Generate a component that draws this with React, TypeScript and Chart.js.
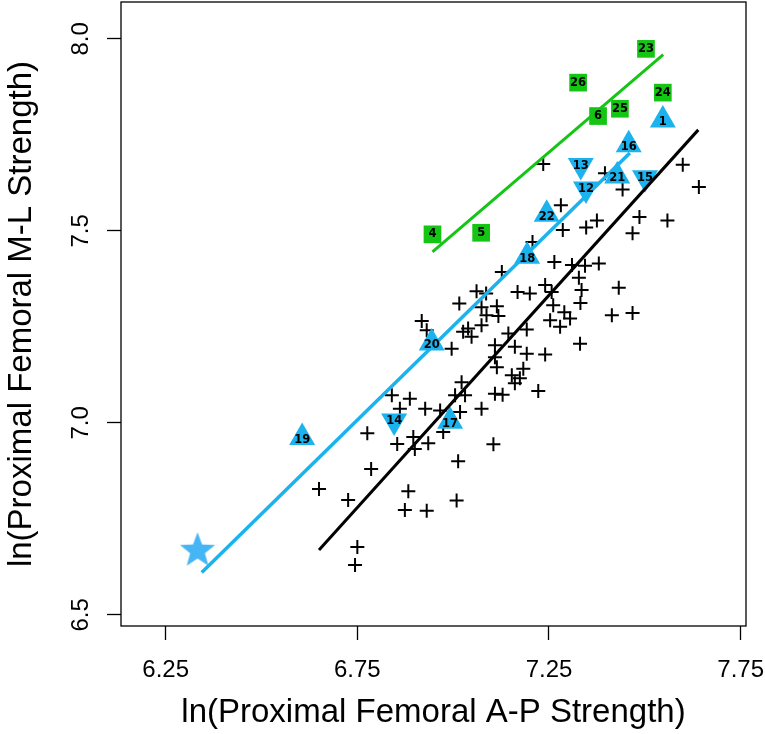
import React, { useEffect, useRef } from 'react';
import { Chart, registerables } from 'chart.js';
Chart.register(...registerables);

// Axis settings
const xTicks = [6.25, 6.75, 7.25, 7.75];
const yTicks = [6.5, 7.0, 7.5, 8.0];
const xRange = [6.1334, 7.764];
const yRange = [6.471, 8.096];
const xTitle = 'ln(Proximal Femoral A-P Strength)';
const yTitle = 'ln(Proximal Femoral M-L Strength)';

// Black "+" points
const plusX = [
  7.235, 7.396, 7.442, 7.599, 7.641, 7.281, 7.375, 7.347, 7.286, 7.486,
  7.468, 7.559, 7.207, 7.264, 7.310, 7.344, 7.380, 7.328, 7.335, 7.332,
  7.432, 7.414, 7.468, 7.331, 7.290, 7.127, 7.061, 7.086, 7.016, 7.074,
  7.114, 7.087, 7.118, 7.168, 7.200, 7.240, 7.257, 7.261, 7.305, 7.279,
  7.253, 6.918, 6.931, 7.039, 7.026, 7.048, 7.074, 6.996, 7.144, 7.192,
  7.109, 7.161, 7.192, 7.109, 7.240, 7.114, 7.183, 7.153, 7.174, 7.161,
  7.222, 7.109, 7.129, 7.022, 7.005, 7.074, 6.840, 6.887, 6.927, 7.018,
  7.031, 6.966, 6.861, 6.776, 6.854, 6.896, 6.900, 6.935, 6.974, 7.105,
  7.013, 6.786, 6.650, 6.726, 6.883, 6.874, 6.931, 7.009, 6.750, 6.744,
];
const plusY = [
  7.674, 7.650, 7.608, 7.672, 7.614, 7.567, 7.527, 7.509, 7.502, 7.536,
  7.494, 7.527, 7.471, 7.419, 7.411, 7.409, 7.415, 7.378, 7.346, 7.312,
  7.352, 7.280, 7.286, 7.206, 7.288, 7.393, 7.343, 7.337, 7.311, 7.301,
  7.304, 7.280, 7.278, 7.341, 7.337, 7.359, 7.341, 7.306, 7.272, 7.250,
  7.267, 7.265, 7.241, 7.246, 7.237, 7.224, 7.254, 7.193, 7.233, 7.243,
  7.202, 7.198, 7.180, 7.171, 7.178, 7.145, 7.141, 7.124, 7.116, 7.103,
  7.083, 7.076, 7.073, 7.106, 7.072, 7.037, 7.072, 7.063, 7.037, 7.028,
  7.072, 7.032, 7.037, 6.973, 6.945, 6.963, 6.932, 6.947, 6.976, 6.944,
  6.900, 6.880, 6.828, 6.799, 6.822, 6.773, 6.771, 6.798, 6.677, 6.630,
];

// Blue up-triangles
const upLabels = ['1', '16', '21', '22', '18', '20', '17', '19'];
const upX = [7.547, 7.458, 7.428, 7.244, 7.193, 6.944, 6.992, 6.606];
const upY = [7.789, 7.724, 7.643, 7.543, 7.434, 7.208, 7.004, 6.962];

// Blue down-triangles
const downLabels = ['13', '15', '12', '14'];
const downX = [7.333, 7.5005, 7.3465, 6.846];
const downY = [7.670, 7.638, 7.609, 7.005];

// Green squares
const greenLabels = ['23', '26', '24', '6', '25', '4', '5'];
const greenX = [7.503, 7.326, 7.547, 7.378, 7.435, 6.946, 7.073];
const greenY = [7.974, 7.886, 7.860, 7.799, 7.818, 7.491, 7.495];

// Star
const starX = [6.333];
const starY = [6.667];

// Fitted lines (end points)
const blackLineX = [6.65, 7.6395];
const blackLineY = [6.669, 7.763];
const blueLineX = [6.344, 7.461];
const blueLineY = [6.61, 7.703];
const greenLineX = [6.946, 7.548];
const greenLineY = [7.4455, 7.959];

const GREEN = '#14c514';
const BLUE = '#1cb2ee';
const STAR_BLUE = '#45b5f5';

const zip = (xs: number[], ys: number[]) => xs.map((x, i) => ({ x, y: ys[i] }));

function makeStar(): HTMLCanvasElement {
  const c = document.createElement('canvas');
  c.width = 40;
  c.height = 40;
  const ctx = c.getContext('2d')!;
  const R = 18.5;
  const r = R * 0.42;
  ctx.beginPath();
  for (let i = 0; i < 10; i++) {
    const rad = (Math.PI / 5) * i;
    const rr = i % 2 === 0 ? R : r;
    const px = 20 + Math.sin(rad) * rr;
    const py = 20 - Math.cos(rad) * rr;
    if (i === 0) ctx.moveTo(px, py);
    else ctx.lineTo(px, py);
  }
  ctx.closePath();
  ctx.fillStyle = STAR_BLUE;
  ctx.fill();
  return c;
}

const labelPlugin = {
  id: 'pointLabels',
  afterDatasetsDraw(chart: any) {
    const ctx = chart.ctx;
    ctx.save();
    ctx.font = 'bold 11.5px "DejaVu Sans"';
    ctx.fillStyle = '#000';
    ctx.textAlign = 'center';
    ctx.textBaseline = 'middle';
    chart.data.datasets.forEach((ds: any, di: number) => {
      if (!ds.pointLabels) return;
      const meta = chart.getDatasetMeta(di);
      meta.data.forEach((el: any, i: number) => {
        ctx.fillText(ds.pointLabels[i], el.x, el.y + (ds.labelDy || 0));
      });
    });
    ctx.restore();
  },
};

const boxPlugin = {
  id: 'box',
  afterDraw(chart: any) {
    const { ctx, chartArea: a } = chart;
    ctx.save();
    ctx.strokeStyle = '#000';
    ctx.lineWidth = 1.3;
    ctx.strokeRect(a.left, a.top, a.right - a.left, a.bottom - a.top);
    ctx.restore();
  },
};

export default function App() {
  const ref = useRef<HTMLCanvasElement>(null);
  useEffect(() => {
    if (!ref.current) return;
    const star = makeStar();
    const tickFont = { family: '"Liberation Sans", Arial, sans-serif', size: 24 };
    const titleFont = { family: '"Liberation Sans", Arial, sans-serif', size: 33 };
    const chart = new Chart(ref.current, {
      type: 'scatter',
      data: {
        datasets: [
          {
            data: zip(blackLineX, blackLineY), showLine: true, borderColor: '#000',
            borderWidth: 3, pointRadius: 0, order: 1,
          } as any,
          {
            data: zip(blueLineX, blueLineY), showLine: true, borderColor: BLUE,
            borderWidth: 3.5, pointRadius: 0, order: 1,
          },
          {
            data: zip(greenLineX, greenLineY), showLine: true, borderColor: GREEN,
            borderWidth: 3, pointRadius: 0, order: 1,
          },
          {
            data: zip(starX, starY), pointStyle: star, pointRadius: 18, order: 2,
          },
          {
            data: zip(greenX, greenY), pointStyle: 'rect', pointRadius: 12.5,
            backgroundColor: GREEN, borderWidth: 0, order: 3,
            pointLabels: greenLabels, labelDy: 0,
          },
          {
            data: zip(upX, upY), pointStyle: 'triangle', pointRadius: 15,
            backgroundColor: BLUE, borderWidth: 0, order: 4,
            pointLabels: upLabels, labelDy: 2.5,
          },
          {
            data: zip(downX, downY), pointStyle: 'triangle', pointRotation: 180, pointRadius: 15,
            backgroundColor: BLUE, borderWidth: 0, order: 4,
            pointLabels: downLabels, labelDy: 0,
          },
          {
            data: zip(plusX, plusY), pointStyle: 'cross', pointRadius: 7,
            borderColor: '#000', borderWidth: 2, order: 5,
          },
        ],
      },
      options: {
        animation: false,
        responsive: false,
        devicePixelRatio: 1,
        layout: { autoPadding: false, padding: { left: 0, right: 19, top: 2, bottom: 0 } },
        plugins: { legend: { display: false }, tooltip: { enabled: false } },
        scales: {
          x: {
            type: 'linear',
            min: xRange[0],
            max: xRange[1],
            afterBuildTicks: (s: any) => { s.ticks = xTicks.map((v) => ({ value: v })); },
            afterFit: (s: any) => {
              s.height = 108;
              s.paddingLeft = 0;
              s.paddingRight = 0;
            },
            ticks: {
              color: '#000', font: tickFont, padding: 16, maxRotation: 0, minRotation: 0,
              callback: (v: any) => Number(v).toFixed(2),
            },
            grid: { display: true, drawOnChartArea: false, drawTicks: true, tickLength: 14, tickColor: '#000', tickWidth: 1.3 },
            border: { display: false },
            title: { display: true, text: xTitle, color: '#000', font: titleFont, padding: { top: 0, bottom: 1 } },
          },
          y: {
            type: 'linear',
            min: yRange[0],
            max: yRange[1],
            afterBuildTicks: (s: any) => { s.ticks = yTicks.map((v) => ({ value: v })); },
            afterFit: (s: any) => {
              s.width = 121;
              s.paddingTop = 0;
              s.paddingBottom = 0;
            },
            ticks: {
              color: '#000', font: tickFont, padding: 9, minRotation: 90, maxRotation: 90,
              crossAlign: 'center',
              callback: (v: any) => Number(v).toFixed(1),
            },
            grid: { display: true, drawOnChartArea: false, drawTicks: true, tickLength: 14, tickColor: '#000', tickWidth: 1.3 },
            border: { display: false },
            title: { display: true, text: yTitle, color: '#000', font: titleFont, padding: { top: 2, bottom: 0 } },
          },
        },
      } as any,
      plugins: [labelPlugin, boxPlugin],
    });
    return () => chart.destroy();
  }, []);
  return (
    <div style={{ position: 'absolute', left: 0, top: 0, width: 765, height: 734, background: '#fff' }}>
      <canvas ref={ref} width={765} height={734} style={{ display: 'block' }} />
    </div>
  );
}
